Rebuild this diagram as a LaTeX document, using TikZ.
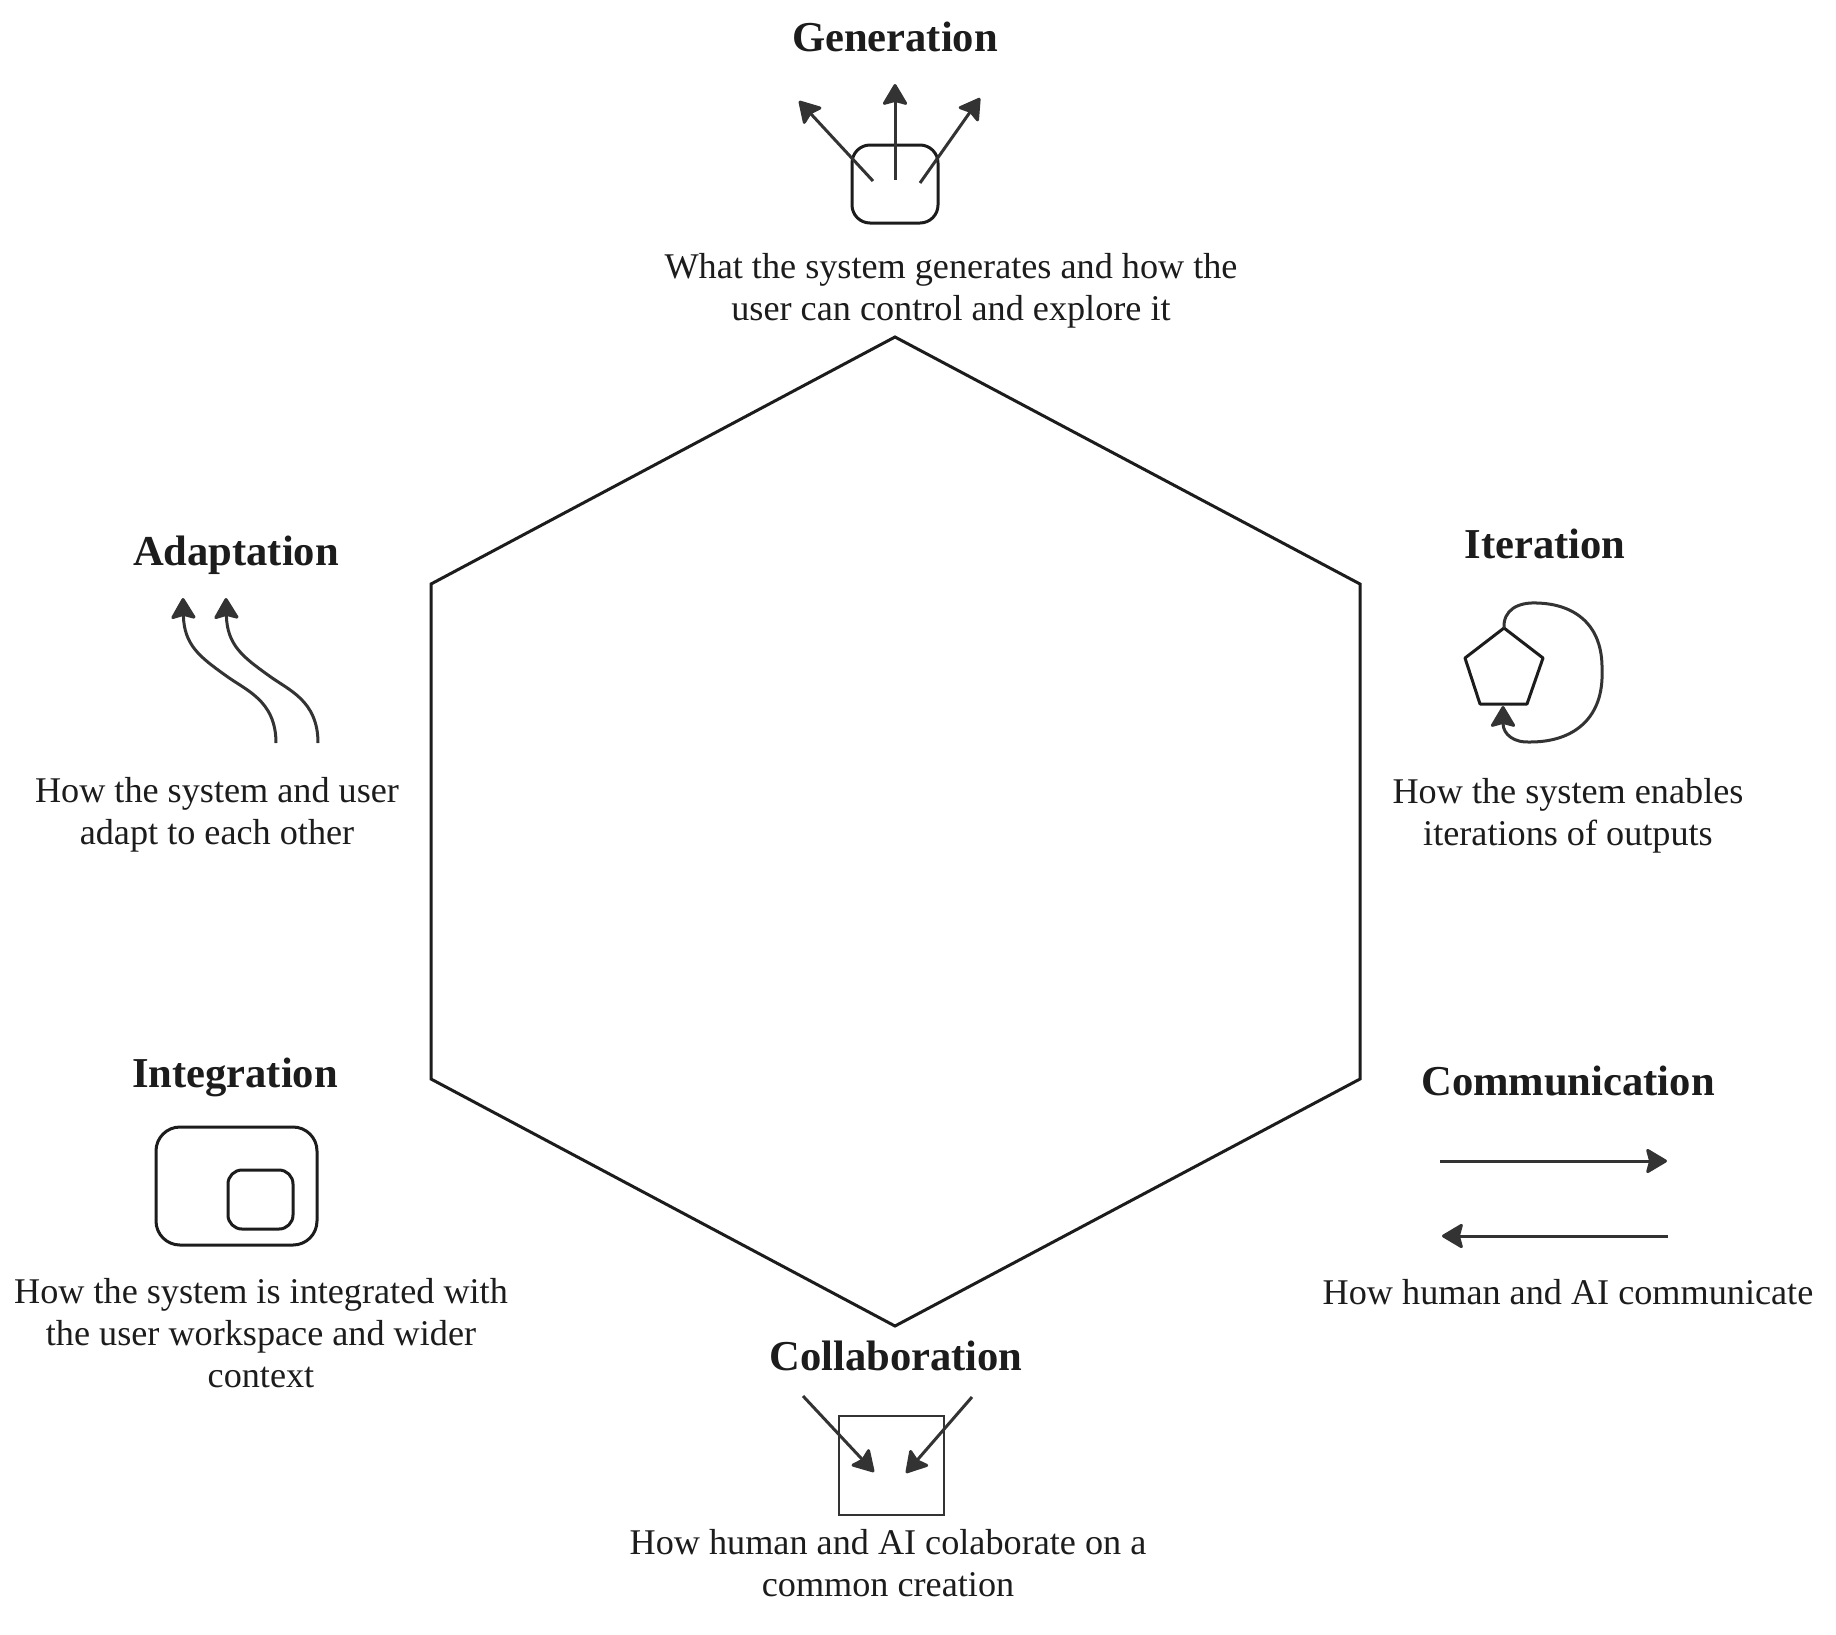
\documentclass[tikz,border=0pt]{standalone}
\usepackage{fontspec}
\setmainfont{Liberation Serif}
\usetikzlibrary{arrows.meta}
\definecolor{ink}{HTML}{1C1C1C}
\definecolor{arrowink}{HTML}{333333}
\tikzset{
  titletext/.style={font=\fontsize{21.3}{24}\selectfont\bfseries,text=ink,inner sep=0pt,anchor=base},
  bodytext/.style={font=\fontsize{18.1}{21}\selectfont,text=ink,inner sep=0pt,anchor=base,align=center},
  hexline/.style={draw=ink,line width=1.5pt,line join=miter},
  iconline/.style={draw=ink,line width=1.5pt,line join=round},
  thinbox/.style={draw=ink!90,line width=0.8pt},
  arrowline/.style={draw=arrowink,line width=1.5pt,-{Stealth[length=11.5pt,width=13.5pt,inset=1.8pt,round]}},
}
\begin{document}
\begin{tikzpicture}[x=0.5pt,y=-0.5pt]
\useasboundingbox[fill=white] (0,0) rectangle (1836,1634);
% hexagon
\coordinate (h1) at (895,337);
\coordinate (h2) at (1360,584);
\coordinate (h3) at (1360,1079);
\coordinate (h4) at (895,1326);
\coordinate (h5) at (431,1079);
\coordinate (h6) at (431,584);
\draw[hexline] (h1) -- (h2) -- (h3) -- (h4) -- (h5) -- (h6) -- cycle;
% titles
\node[titletext] (tgen) at (895,51) {Generation};
\node[titletext] (tite) at (1545,558) {Iteration};
\node[titletext] (tada) at (236,565) {Adaptation};
\node[titletext] (tint) at (235,1087) {Integration};
\node[titletext] (tcom) at (1568,1095) {Communication};
\node[titletext] (tcol) at (896,1370) {Collaboration};
% descriptions
\node[bodytext] (dgen) at (951,320) {What the system generates and how the\\user can control and explore it};
\node[bodytext] (dite) at (1568,845) {How the system enables\\iterations of outputs};
\node[bodytext] (dada) at (217,844) {How the system and user\\adapt to each other};
\node[bodytext] (dint) at (261,1387) {How the system is integrated with\\the user workspace and wider\\context};
\node[bodytext] (dcom) at (1568,1304) {How human and AI communicate};
\node[bodytext] (dcol) at (888,1596) {How human and AI colaborate on a\\common creation};
% generation icon
\draw[iconline,rounded corners=9pt] (852,145) rectangle (938,223);
\coordinate (g1s) at (873,181); \coordinate (g1e) at (799,101);
\coordinate (g2s) at (895,180); \coordinate (g2e) at (895,84);
\coordinate (g3s) at (920,183); \coordinate (g3e) at (980,98);
\draw[arrowline] (g1s) -- (g1e);
\draw[arrowline] (g2s) -- (g2e);
\draw[arrowline] (g3s) -- (g3e);
% iteration icon
\coordinate (p1) at (1504,628);
\coordinate (p2) at (1543,658);
\coordinate (p3) at (1527,704);
\coordinate (p4) at (1480,704);
\coordinate (p5) at (1465,658);
\draw[iconline] (p1) -- (p2) -- (p3) -- (p4) -- (p5) -- cycle;
\coordinate (loopend) at (1503,706);
\draw[arrowline] (p1) .. controls (1503,610) and (1518,602) .. (1537,603)
  .. controls (1575,604) and (1603,625) .. (1602,670)
  .. controls (1604,717) and (1575,742) .. (1530,742)
  .. controls (1515,743) and (1503,735) .. (loopend);
% adaptation icon
\coordinate (a1s) at (276,743); \coordinate (a1e) at (183,598);
\coordinate (a2s) at (318,743); \coordinate (a2e) at (226,598);
\draw[arrowline] (a1s) .. controls (276,700) and (245,690) .. (225,675)
  .. controls (200,657) and (184,645) .. (a1e);
\draw[arrowline] (a2s) .. controls (318,700) and (288,690) .. (268,675)
  .. controls (243,657) and (227,645) .. (a2e);
% integration icon
\draw[iconline,rounded corners=12pt] (156,1127) rectangle (317,1245);
\draw[iconline,rounded corners=7pt] (228,1170) rectangle (293,1229);
% communication icon
\coordinate (c1s) at (1440,1161); \coordinate (c1e) at (1667,1161);
\coordinate (c2s) at (1668,1236); \coordinate (c2e) at (1442,1236);
\draw[arrowline] (c1s) -- (c1e);
\draw[arrowline] (c2s) -- (c2e);
% collaboration icon
\draw[thinbox] (839,1416) rectangle (944,1515);
\coordinate (k1s) at (803,1396); \coordinate (k1e) at (874,1472);
\coordinate (k2s) at (972,1397); \coordinate (k2e) at (906,1473);
\draw[arrowline] (k1s) -- (k1e);
\draw[arrowline] (k2s) -- (k2e);
\end{tikzpicture}
\end{document}
